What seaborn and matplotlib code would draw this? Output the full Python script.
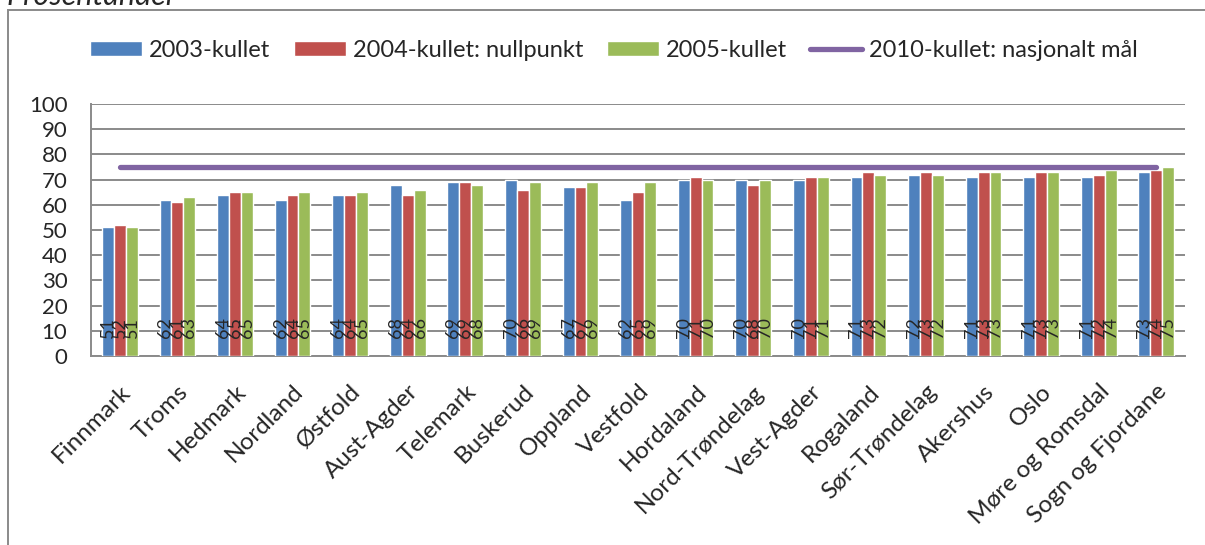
import numpy as np
import pandas as pd
import seaborn as sns
import matplotlib.pyplot as plt
from matplotlib.patches import Rectangle, Patch
from matplotlib.lines import Line2D

fylker = ["Finnmark", "Troms", "Hedmark", "Nordland", "Østfold", "Aust-Agder",
          "Telemark", "Buskerud", "Oppland", "Vestfold", "Hordaland",
          "Nord-Trøndelag", "Vest-Agder", "Rogaland", "Sør-Trøndelag",
          "Akershus", "Oslo", "Møre og Romsdal", "Sogn og Fjordane"]
kull_2003 = [51, 62, 64, 62, 64, 68, 69, 70, 67, 62, 70, 70, 70, 71, 72, 71, 71, 71, 73]
kull_2004 = [52, 61, 65, 64, 64, 64, 69, 66, 67, 65, 71, 68, 71, 73, 73, 73, 73, 72, 74]
kull_2005 = [51, 63, 65, 65, 65, 66, 68, 69, 69, 69, 70, 70, 71, 72, 72, 73, 73, 74, 75]
maal_2010 = [75] * len(fylker)
serier = ["2003-kullet", "2004-kullet: nullpunkt", "2005-kullet"]
farger = ["#4F81BD", "#C0504D", "#9BBB59"]
linjefarge = "#8064A2"
grå = "#8a8a8a"

df = pd.DataFrame({
    "fylke": fylker * 3,
    "verdi": kull_2003 + kull_2004 + kull_2005,
    "kull": [s for s in serier for _ in fylker],
})

sns.set_style("white")
plt.rcParams["font.family"] = ["Lato", "DejaVu Sans"]

fig = plt.figure(figsize=(12.05, 5.45), dpi=100)
ax = fig.add_axes([0.0755, 0.347, 0.908, 0.462])

sns.barplot(data=df, x="fylke", y="verdi", hue="kull", palette=farger,
            width=0.62, ax=ax, legend=False, saturation=1, zorder=3)
sns.lineplot(x=np.arange(len(fylker)), y=maal_2010, color=linjefarge,
             linewidth=3.8, ax=ax, zorder=4, solid_capstyle="round")

# verdietiketter ved foten av stolpene
for cont in ax.containers:
    for bar in cont:
        ax.text(bar.get_x() + bar.get_width() / 2, 7, f"{bar.get_height():.0f}",
                rotation=90, ha="center", va="bottom", fontsize=13, zorder=5)

ax.set_xlim(-0.5, len(fylker) - 0.5)
ax.set_ylim(0, 100)
ax.set_yticks(range(0, 101, 10))
ax.yaxis.grid(True, color=grå, linewidth=1.4)
ax.set_axisbelow(True)
ax.set_xlabel("")
ax.set_ylabel("")
for s in ["top", "right"]:
    ax.spines[s].set_visible(False)
for s in ["left", "bottom"]:
    ax.spines[s].set_color(grå)
    ax.spines[s].set_linewidth(1.4)
ax.set_xticks(np.arange(len(fylker)))
ax.set_xticklabels(fylker, rotation=45, ha="right", rotation_mode="anchor")
ax.set_xticks(np.arange(len(fylker) + 1) - 0.5, minor=True)
ax.tick_params(axis="x", which="major", length=0, pad=18, labelsize=17.5)
ax.tick_params(axis="x", which="minor", length=6, color=grå, width=1.4, direction="out")
ax.tick_params(axis="y", length=6, color=grå, width=1.4, direction="out",
               labelsize=16, pad=11)

handles = [Patch(facecolor=c, label=s) for c, s in zip(farger, serier)]
handles.append(Line2D([0], [0], color=linjefarge, linewidth=3.8,
                      label="2010-kullet: nasjonalt mål"))
fig.legend(handles=handles, loc="center", bbox_to_anchor=(0.5095, 0.908), ncol=4,
           frameon=False, fontsize=17, handlelength=2.2, handleheight=0.6,
           columnspacing=1.0, handletextpad=0.3)

fig.patches.append(Rectangle((8 / 1205, -0.05), 1.2, 1.05 - 10 / 545,
                             transform=fig.transFigure, fill=False,
                             edgecolor=grå, linewidth=1.4))
fig.text(0.005, 1 - 5 / 545, "Prosentandel", style="italic", fontsize=22,
         va="baseline", ha="left")

fig.savefig("out.png", dpi=100)
